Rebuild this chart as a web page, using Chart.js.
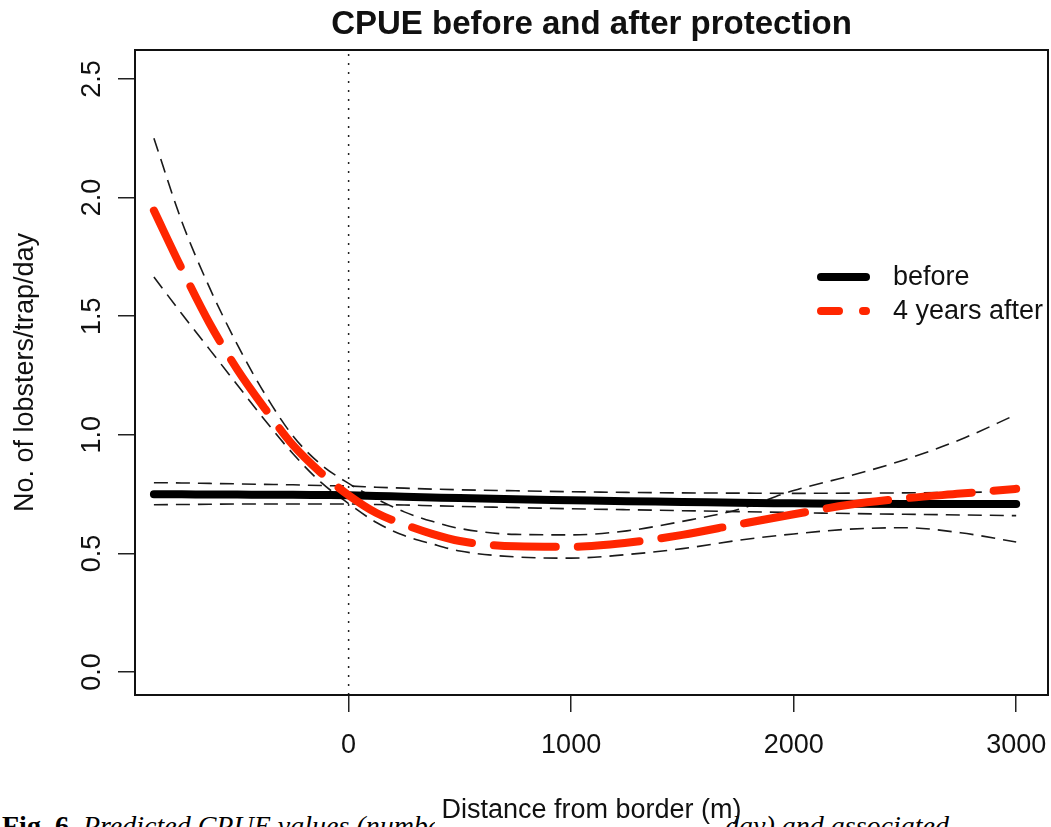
<!DOCTYPE html>
<html>
<head>
<meta charset="utf-8">
<script src="https://cdn.jsdelivr.net/npm/chart.js@4"></script>
<style>
  html, body { margin: 0; padding: 0; background: #fff; }
  #wrap { position: relative; width: 1051px; height: 827px; overflow: hidden; }
  #caption {
    position: absolute; left: 2px; top: 812px; z-index: 0;
    font: italic 28px "Liberation Serif", "DejaVu Serif", serif;
    white-space: nowrap; color: #000; line-height: 28px;
  }
  #caption b { font-style: normal; }
  #cpue { position: absolute; left: 0; top: 0; z-index: 1; }
</style>
</head>
<body>
<div id="wrap">
  <div id="caption"><b>Fig. 6.</b> Predicted CPUE values (number of lobsters per trap per day) and associated</div>
  <canvas id="cpue" width="1051" height="827"></canvas>
</div>
<script>
// distance from border (m)
var distance = [-875, -750, -625, -500, -375, -250, -125, 0, 125, 250, 375, 500,
                750, 1000, 1250, 1500, 1750, 2000, 2250, 2500, 2750, 3000];

// before protection: fit and CI
var before   = [0.749, 0.749, 0.748, 0.748, 0.747, 0.747, 0.746, 0.745, 0.742, 0.739, 0.736, 0.733,
                0.728, 0.724, 0.720, 0.717, 0.713, 0.711, 0.709, 0.708, 0.708, 0.708];
var beforeHi = [0.798, 0.797, 0.795, 0.793, 0.791, 0.789, 0.786, 0.784, 0.779, 0.775, 0.771, 0.768,
                0.764, 0.760, 0.757, 0.755, 0.754, 0.753, 0.754, 0.755, 0.757, 0.760];
var beforeLo = [0.705, 0.706, 0.707, 0.708, 0.708, 0.708, 0.708, 0.708, 0.706, 0.704, 0.701, 0.698,
                0.693, 0.688, 0.684, 0.680, 0.676, 0.672, 0.668, 0.665, 0.662, 0.659];

// 4 years after: fit and CI
var after    = [1.945, 1.700, 1.470, 1.275, 1.109, 0.956, 0.840, 0.745, 0.670, 0.622, 0.582, 0.552,
                0.530, 0.528, 0.545, 0.578, 0.622, 0.665, 0.705, 0.732, 0.752, 0.772];
var afterHi  = [2.250, 1.900, 1.620, 1.380, 1.170, 0.995, 0.875, 0.795, 0.730, 0.675, 0.635, 0.605,
                0.580, 0.578, 0.595, 0.635, 0.685, 0.765, 0.826, 0.895, 0.980, 1.085];
var afterLo  = [1.665, 1.510, 1.360, 1.210, 1.060, 0.920, 0.800, 0.710, 0.630, 0.575, 0.540, 0.510,
                0.485, 0.480, 0.495, 0.520, 0.555, 0.582, 0.602, 0.608, 0.587, 0.548];

var xTicks = [0, 1000, 2000, 3000];
var yTicks = [0, 0.5, 1, 1.5, 2, 2.5];

function pts(ys) {
    return distance.map(function (d, i) { return { x: d, y: ys[i] }; });
}

var font = '"Liberation Sans", Arial, sans-serif';
var fs = 27;
var titleFs = 33;
var red = 'rgb(255, 38, 0)';

function ciSet(label, ys) {
    return {
        label: label, data: pts(ys), borderColor: '#1a1a1a', borderWidth: 1.6,
        borderDash: [14, 8], pointRadius: 0, cubicInterpolationMode: 'monotone',
        order: 3
    };
}

// box, title, x=0 reference line, legend
var extras = {
    id: 'extras',
    beforeDraw: function (chart) {
        var c = chart.ctx;
        c.save();
        c.fillStyle = '#fff';
        c.fillRect(0, 0, chart.width, 814);
        c.fillRect(435, 0, 290, chart.height);
        c.restore();
    },
    beforeDatasetsDraw: function (chart) {
        var c = chart.ctx, a = chart.chartArea;
        var x0 = chart.scales.x.getPixelForValue(0);
        c.save();
        c.strokeStyle = '#222';
        c.lineWidth = 1.5;
        c.setLineDash([2, 7]);
        c.beginPath();
        c.moveTo(x0, a.top + 4);
        c.lineTo(x0, a.bottom);
        c.stroke();
        c.restore();
    },
    afterDraw: function (chart) {
        var c = chart.ctx, a = chart.chartArea;
        c.save();
        c.strokeStyle = '#111';
        c.lineWidth = 2;
        c.strokeRect(a.left, a.top, a.right - a.left, a.bottom - a.top);

        c.fillStyle = '#111';
        c.textAlign = 'center';
        c.textBaseline = 'middle';
        c.font = 'bold ' + titleFs + 'px ' + font;
        c.fillText('CPUE before and after protection', (a.left + a.right) / 2, 25);

        var items = chart.data.datasets.filter(function (d) { return d.legendPos !== undefined; });
        items.sort(function (p, q) { return p.legendPos - q.legendPos; });
        c.font = fs + 'px ' + font;
        c.textAlign = 'left';
        items.forEach(function (d, i) {
            var y = 277 + i * 34;
            c.strokeStyle = d.borderColor;
            c.lineWidth = d.borderWidth;
            c.lineCap = 'round';
            c.setLineDash(d.legendDash || []);
            c.beginPath();
            c.moveTo(821, y);
            c.lineTo(866, y);
            c.stroke();
            c.setLineDash([]);
            c.fillText(d.label, 893, y + 1);
        });
        c.restore();
    }
};

new Chart(document.getElementById('cpue'), {
    type: 'line',
    data: {
        datasets: [
            {
                label: '4 years after', data: pts(after), borderColor: red, borderWidth: 8,
                borderDash: [62, 22], borderCapStyle: 'round', pointRadius: 0,
                cubicInterpolationMode: 'monotone', order: 1, legendPos: 1, legendDash: [18, 24]
            },
            {
                label: 'before', data: pts(before), borderColor: '#000', borderWidth: 8,
                borderCapStyle: 'round', pointRadius: 0, cubicInterpolationMode: 'monotone',
                order: 2, legendPos: 0
            },
            ciSet('before upper', beforeHi),
            ciSet('before lower', beforeLo),
            ciSet('after upper', afterHi),
            ciSet('after lower', afterLo)
        ]
    },
    options: {
        responsive: false,
        animation: false,
        events: [],
        layout: { padding: { top: 50, right: 3 } },
        plugins: {
            legend: { display: false },
            tooltip: { enabled: false },
            title: { display: false }
        },
        scales: {
            x: {
                type: 'linear', min: -960, max: 3143,
                afterFit: function (s) { s.height = 132; s.paddingLeft = 0; s.paddingRight = 0; },
                afterBuildTicks: function (s) { s.ticks = xTicks.map(function (v) { return { value: v }; }); },
                border: { display: false },
                grid: { drawOnChartArea: false, tickLength: 17, color: '#222', lineWidth: 1.5 },
                ticks: {
                    color: '#111', padding: 17, font: { family: font, size: fs },
                    maxRotation: 0, callback: function (v) { return String(v); }
                },
                title: {
                    display: true, text: 'Distance from border (m)', color: '#111',
                    font: { family: font, size: fs }, padding: { top: 0, bottom: 0 }
                }
            },
            y: {
                type: 'linear', min: -0.097, max: 2.622,
                afterFit: function (s) { s.width = 135; s.paddingTop = 0; s.paddingBottom = 0; },
                afterBuildTicks: function (s) { s.ticks = yTicks.map(function (v) { return { value: v }; }); },
                border: { display: false },
                grid: { drawOnChartArea: false, tickLength: 17, color: '#222', lineWidth: 1.5 },
                ticks: {
                    color: '#111', padding: 7, crossAlign: 'center', minRotation: 90, maxRotation: 90,
                    font: { family: font, size: fs },
                    callback: function (v) { return v.toFixed(1); }
                },
                title: {
                    display: true, text: 'No. of lobsters/trap/day', color: '#111',
                    font: { family: font, size: fs }, padding: { top: 9, bottom: 0 }
                }
            }
        }
    },
    plugins: [extras]
});
</script>
</body>
</html>
